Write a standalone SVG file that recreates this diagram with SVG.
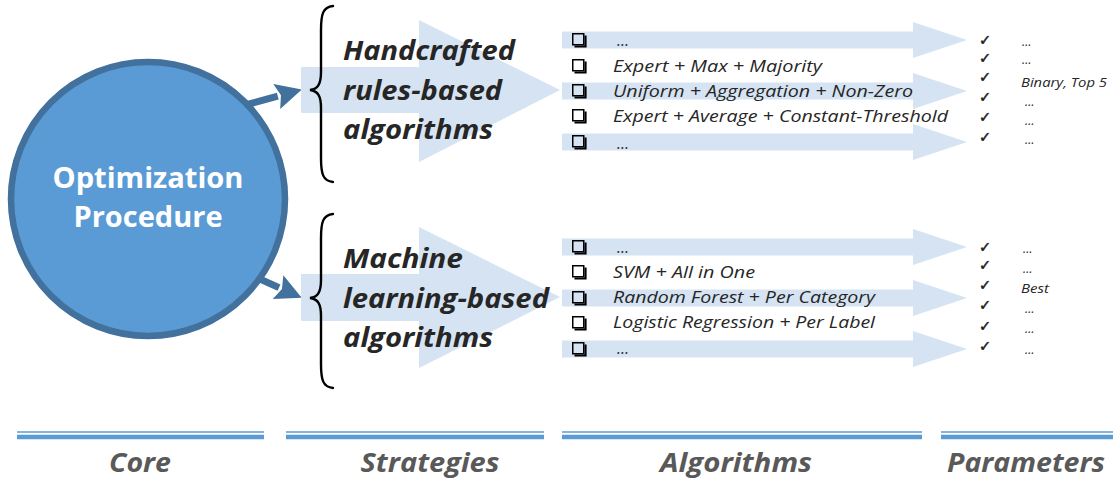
<svg xmlns="http://www.w3.org/2000/svg" xmlns:xlink="http://www.w3.org/1999/xlink" width="1113" height="478" viewBox="0 0 1113 478">
  <style>
    .band { fill: #d5e3f2; }
    .brace { fill: none; stroke: #000; stroke-width: 2.4; stroke-linecap: round; }
    .core { font-family: "Open Sans", "Liberation Sans", sans-serif; font-weight: 700; font-size: 28px; fill: #ffffff; text-anchor: middle; }
    .strat { font-family: "Open Sans", "Liberation Sans", sans-serif; font-weight: 700; font-style: italic; font-size: 26px; fill: #262626; }
    .algo { font-family: "Open Sans", "Liberation Sans", sans-serif; font-style: italic; font-size: 16px; fill: #262626; }
    .param { font-family: "Open Sans", "Liberation Sans", sans-serif; font-style: italic; font-size: 12.5px; fill: #262626; }
    .tick { font-family: "DejaVu Sans", sans-serif; font-size: 14.5px; fill: #1a1a1a; stroke: #1a1a1a; stroke-width: 0.5; }
    .head { font-family: "Open Sans", "Liberation Sans", sans-serif; font-weight: 700; font-style: italic; font-size: 27px; fill: #595959; text-anchor: middle; }
    .rule-thin { stroke: #5b9bd5; stroke-width: 1.6; }
    .rule-thick { stroke: #5b9bd5; stroke-width: 4.5; }
    .conn { stroke: #41719c; stroke-width: 7; fill: none; }
  </style>
  <defs>
    <marker id="head" viewBox="0 0 24 24" markerUnits="userSpaceOnUse" markerWidth="26" markerHeight="26" refX="1" refY="12" orient="auto">
      <path d="M0,0 L24,12 L0,24 L4,12 z" fill="#41719c"/>
    </marker>
    <!-- drop-shadowed square bullet -->
    <g id="box">
      <rect x="0.75" y="0.75" width="11" height="11" fill="none" stroke="#000" stroke-width="1.5"/>
      <path d="M12.5,2.5 H14.6 V14.6 H2.5 V12.5 H12.5 Z" fill="#000"/>
    </g>
  </defs>

  <rect width="1113" height="478" fill="#ffffff"/>

  <!-- connectors from the core to the two strategies -->
  <g id="connectors">
    <line class="conn" x1="240.3" y1="106.5" x2="277.8" y2="96.2" marker-end="url(#head)"/>
    <line class="conn" x1="243.4" y1="271.6" x2="279" y2="287.6" marker-end="url(#head)"/>
  </g>

  <!-- core -->
  <g id="core">
    <circle cx="148" cy="199" r="137" fill="#5b9bd5" stroke="#41719c" stroke-width="6.5"/>
    <text class="core" x="148" y="188" textLength="191" lengthAdjust="spacingAndGlyphs">Optimization</text>
    <text class="core" x="148" y="227" textLength="149" lengthAdjust="spacingAndGlyphs">Procedure</text>
  </g>

  <!-- strategies -->
  <g id="strategy-handcrafted">
    <polygon class="band" points="301,67 419,67 419,20 560,90 419,162 419,113 301,113"/>
    <path class="brace" d="M333,6 C323,7 321,14 321,30 L321,72 C321,84 318,89 310,90 C318,91 321,96 321,108 L321,158 C321,174 323,181 333,182"/>
    <text class="strat" x="343" y="60" textLength="172" lengthAdjust="spacingAndGlyphs">Handcrafted</text>
    <text class="strat" x="343" y="100" textLength="159" lengthAdjust="spacingAndGlyphs">rules-based</text>
    <text class="strat" x="343" y="139" textLength="150" lengthAdjust="spacingAndGlyphs">algorithms</text>
  </g>
  <g id="strategy-ml">
    <polygon class="band" points="301,274 419,274 419,227 560,297 419,368 419,321 301,321"/>
    <path class="brace" d="M333,214 C323,215 321,222 321,238 L321,280 C321,292 318,297 310,298 C318,299 321,304 321,316 L321,364 C321,380 323,387 333,388"/>
    <text class="strat" x="343" y="268" textLength="120" lengthAdjust="spacingAndGlyphs">Machine</text>
    <text class="strat" x="343" y="308" textLength="206" lengthAdjust="spacingAndGlyphs">learning-based</text>
    <text class="strat" x="343" y="347" textLength="150" lengthAdjust="spacingAndGlyphs">algorithms</text>
  </g>

  <!-- algorithms: handcrafted -->
  <g id="algorithms-handcrafted">
    <polygon class="band" points="562,31.5 913,31.5 913,22 967,40 913,58 913,48.5 562,48.5"/>
    <polygon class="band" points="562,82.5 913,82.5 913,73 967,91 913,109 913,99.5 562,99.5"/>
    <polygon class="band" points="562,133.5 913,133.5 913,124 967,142 913,160 913,150.5 562,150.5"/>
    <use xlink:href="#box" x="572" y="33"/>
    <use xlink:href="#box" x="572" y="59"/>
    <use xlink:href="#box" x="572" y="84"/>
    <use xlink:href="#box" x="572" y="109"/>
    <use xlink:href="#box" x="572" y="135"/>
    <text class="algo" x="617" y="46">…</text>
    <text class="algo" x="613" y="72" textLength="209" lengthAdjust="spacingAndGlyphs">Expert + Max + Majority</text>
    <text class="algo" x="613" y="97" textLength="300" lengthAdjust="spacingAndGlyphs">Uniform + Aggregation + Non-Zero</text>
    <text class="algo" x="613" y="122" textLength="335" lengthAdjust="spacingAndGlyphs">Expert + Average + Constant-Threshold</text>
    <text class="algo" x="617" y="149">…</text>
  </g>

  <!-- algorithms: machine learning -->
  <g id="algorithms-ml">
    <polygon class="band" points="562,238.5 913,238.5 913,229 967,247 913,265 913,255.5 562,255.5"/>
    <polygon class="band" points="562,289.5 913,289.5 913,280 967,298 913,316 913,306.5 562,306.5"/>
    <polygon class="band" points="562,340.5 913,340.5 913,331 967,349 913,367 913,357.5 562,357.5"/>
    <use xlink:href="#box" x="572" y="240"/>
    <use xlink:href="#box" x="572" y="265"/>
    <use xlink:href="#box" x="572" y="291"/>
    <use xlink:href="#box" x="572" y="316"/>
    <use xlink:href="#box" x="572" y="342"/>
    <text class="algo" x="617" y="253">…</text>
    <text class="algo" x="613" y="278" textLength="142" lengthAdjust="spacingAndGlyphs">SVM + All in One</text>
    <text class="algo" x="613" y="303" textLength="262" lengthAdjust="spacingAndGlyphs">Random Forest + Per Category</text>
    <text class="algo" x="613" y="328" textLength="262" lengthAdjust="spacingAndGlyphs">Logistic Regression + Per Label</text>
    <text class="algo" x="617" y="354">…</text>
  </g>

  <!-- parameters: handcrafted -->
  <g id="parameters-handcrafted">
    <text class="tick" x="979" y="45">✓</text>
    <text class="tick" x="979" y="63">✓</text>
    <text class="tick" x="979" y="82">✓</text>
    <text class="tick" x="979" y="102">✓</text>
    <text class="tick" x="979" y="122">✓</text>
    <text class="tick" x="979" y="142">✓</text>
    <text class="param" x="1022" y="46">…</text>
    <text class="param" x="1022" y="64">…</text>
    <text class="param" x="1021" y="87" textLength="86" lengthAdjust="spacingAndGlyphs">Binary, Top 5</text>
    <text class="param" x="1025" y="106">…</text>
    <text class="param" x="1025" y="125">…</text>
    <text class="param" x="1025" y="144">…</text>
  </g>

  <!-- parameters: machine learning -->
  <g id="parameters-ml">
    <text class="tick" x="979" y="252">✓</text>
    <text class="tick" x="979" y="270">✓</text>
    <text class="tick" x="979" y="290">✓</text>
    <text class="tick" x="979" y="310">✓</text>
    <text class="tick" x="979" y="331">✓</text>
    <text class="tick" x="979" y="351">✓</text>
    <text class="param" x="1023" y="253">…</text>
    <text class="param" x="1023" y="273">…</text>
    <text class="param" x="1021" y="293" textLength="28" lengthAdjust="spacingAndGlyphs">Best</text>
    <text class="param" x="1025" y="313">…</text>
    <text class="param" x="1025" y="333">…</text>
    <text class="param" x="1025" y="354">…</text>
  </g>

  <!-- column headings -->
  <g id="heading-core">
    <line class="rule-thin" x1="17" y1="432" x2="264" y2="432"/>
    <line class="rule-thick" x1="17" y1="437" x2="264" y2="437"/>
    <text class="head" x="140" y="472" textLength="62" lengthAdjust="spacingAndGlyphs">Core</text>
  </g>
  <g id="heading-strategies">
    <line class="rule-thin" x1="286" y1="432" x2="544" y2="432"/>
    <line class="rule-thick" x1="286" y1="437" x2="544" y2="437"/>
    <text class="head" x="430" y="472" textLength="139" lengthAdjust="spacingAndGlyphs">Strategies</text>
  </g>
  <g id="heading-algorithms">
    <line class="rule-thin" x1="562" y1="432" x2="922" y2="432"/>
    <line class="rule-thick" x1="562" y1="437" x2="922" y2="437"/>
    <text class="head" x="736" y="472" textLength="152" lengthAdjust="spacingAndGlyphs">Algorithms</text>
  </g>
  <g id="heading-parameters">
    <line class="rule-thin" x1="941" y1="432" x2="1113" y2="432"/>
    <line class="rule-thick" x1="941" y1="437" x2="1113" y2="437"/>
    <text class="head" x="1026" y="472" textLength="158" lengthAdjust="spacingAndGlyphs">Parameters</text>
  </g>
</svg>
